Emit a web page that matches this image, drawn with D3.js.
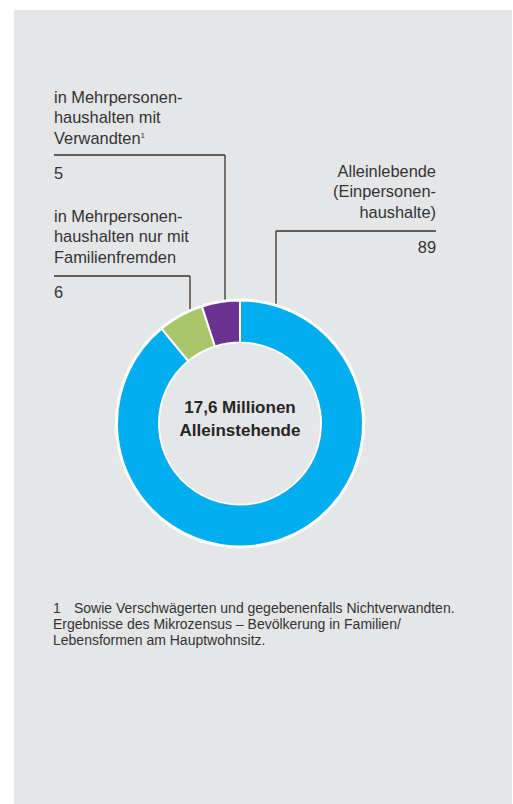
<!DOCTYPE html>
<html>
<head>
<meta charset="utf-8">
<script src="https://cdn.jsdelivr.net/npm/d3@7"></script>
<style>
  html, body { margin: 0; padding: 0; background: #ffffff; }
  svg { display: block; }
  text { font-family: "Liberation Sans", Arial, sans-serif; fill: #333333; }
</style>
</head>
<body>
<script>
// data
var categories = ['Alleinlebende', 'nur mit Familienfremden', 'mit Verwandten'];
var values = [89, 6, 5];
var colors = ['#00aeef', '#a8c66a', '#6b3291'];
var labels = [
    ['Alleinlebende', '(Einpersonen-', 'haushalte)'],
    ['in Mehrpersonen-', 'haushalten nur mit', 'Familienfremden'],
    ['in Mehrpersonen-', 'haushalten mit', 'Verwandten']
];
var centerText = ['17,6 Millionen', 'Alleinstehende'];
var footnote = [
    'Sowie Verschwägerten und gegebenenfalls Nichtverwandten.',
    'Ergebnisse des Mikrozensus – Bevölkerung in Familien/',
    'Lebensformen am Hauptwohnsitz.'
];

var width = 513, height = 804;
var cx = 240, cy = 423.5, outerR = 123, innerR = 81;

var svg = d3.select('body').append('svg')
    .attr('width', width)
    .attr('height', height);

// grey panel
svg.append('rect')
    .attr('x', 14).attr('y', 10)
    .attr('width', 498).attr('height', 794)
    .attr('fill', '#e5e6e8');

var pie = d3.pie().sort(null).value(function (d) { return d; });
var arc = d3.arc().innerRadius(innerR).outerRadius(outerR);
var arcs = pie(values);

var g = svg.append('g').attr('transform', 'translate(' + cx + ',' + cy + ')');

// white outline around the ring
g.append('circle').attr('r', outerR + 2).attr('fill', '#ffffff');
g.append('circle').attr('r', innerR).attr('fill', '#e5e6e8');

g.selectAll('.slice')
    .data(arcs)
    .enter().append('path')
    .attr('class', 'slice')
    .attr('d', arc)
    .attr('fill', function (d, i) { return colors[i]; })
    .attr('stroke', '#ffffff')
    .attr('stroke-width', 2);

g.append('circle').attr('r', innerR - 1).attr('fill', '#e5e6e8');

// leader lines: label line y, line x range, x where it drops onto the ring
var leaders = [
    { lineY: 231, x1: 276, x2: 436, dropX: 276, textX: 436, anchor: 'end', firstBase: 177, valueBase: 253 },
    { lineY: 276, x1: 54, x2: 190, dropX: 190, textX: 54, anchor: 'start', firstBase: 222, valueBase: 298 },
    { lineY: 155, x1: 54, x2: 225, dropX: 225, textX: 54, anchor: 'start', firstBase: 103, valueBase: 179 }
];

leaders.forEach(function (l, i) {
    var dx = l.dropX - cx;
    var yEnd = cy - Math.sqrt((outerR + 2) * (outerR + 2) - dx * dx);
    svg.append('path')
        .attr('d', 'M' + l.x1 + ',' + l.lineY + 'H' + l.x2 + 'M' + l.dropX + ',' + l.lineY + 'V' + yEnd)
        .attr('fill', 'none')
        .attr('stroke', '#333333')
        .attr('stroke-width', 1.3);

    var t = svg.append('text')
        .attr('text-anchor', l.anchor)
        .style('font-size', '16.4px');
    labels[i].forEach(function (line, j) {
        t.append('tspan')
            .attr('x', l.textX)
            .attr('y', l.firstBase + j * 20.3)
            .text(line);
        if (i === 2 && j === 2) {
            t.append('tspan').attr('dy', -6).style('font-size', '8px').text('1');
        }
    });

    svg.append('text')
        .attr('x', l.textX)
        .attr('y', l.valueBase)
        .attr('text-anchor', l.anchor)
        .style('font-size', '16.4px')
        .text(values[i]);
});

// centre text
centerText.forEach(function (line, j) {
    svg.append('text')
        .attr('x', cx)
        .attr('y', 413 + j * 23)
        .attr('text-anchor', 'middle')
        .style('font-size', '17px')
        .style('font-weight', 'bold')
        .style('fill', '#262626')
        .text(line);
});

// footnote
svg.append('text')
    .attr('x', 53).attr('y', 613)
    .style('font-size', '14px')
    .text('1');
footnote.forEach(function (line, j) {
    svg.append('text')
        .attr('x', j === 0 ? 74 : 53)
        .attr('y', 613 + j * 16)
        .style('font-size', '14px')
        .text(line);
});
</script>
</body>
</html>
